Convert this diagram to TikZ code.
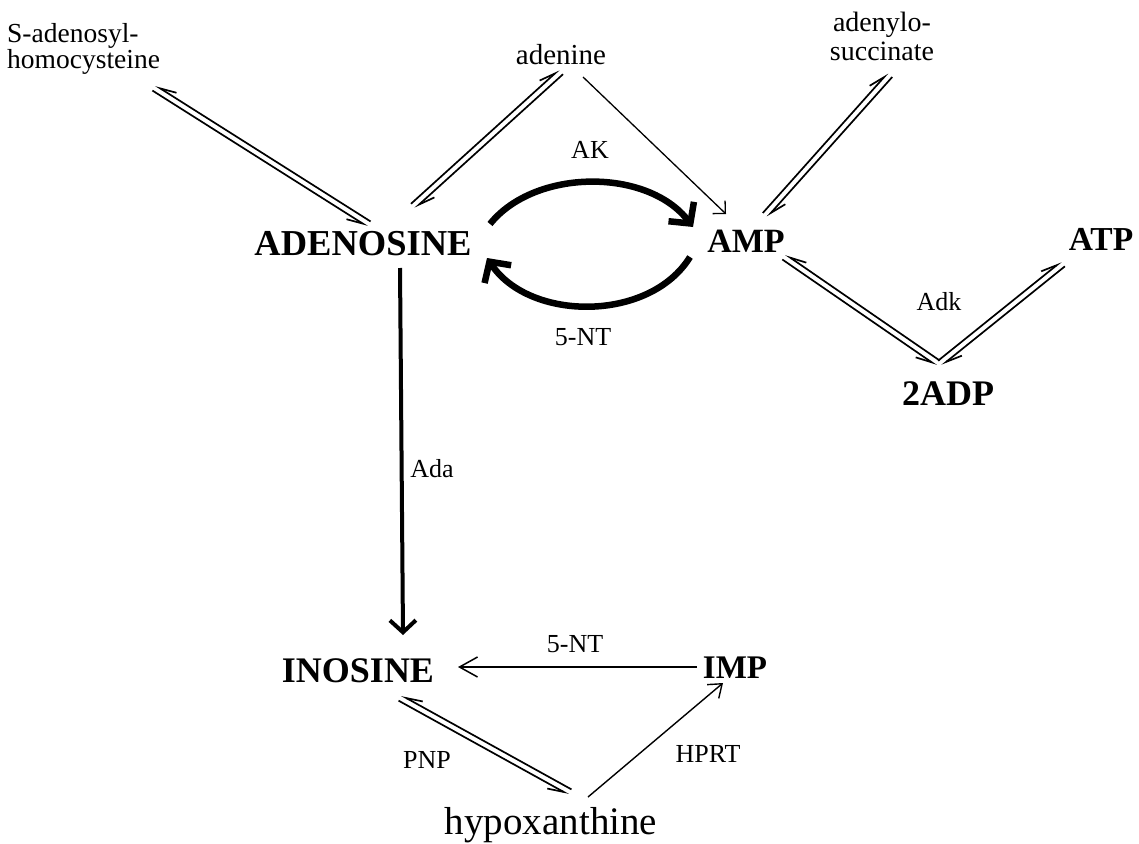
\documentclass[tikz,border=0pt]{standalone}
\usepackage{fontspec}
\setmainfont{Liberation Serif}
\usetikzlibrary{arrows.meta,calc}
\tikzset{
  species/.style={anchor=base,inner sep=0pt,font=\fontsize{#1}{#1}\selectfont\bfseries},
  small/.style={anchor=base,inner sep=0pt,font=\fontsize{#1}{#1}\selectfont},
  enz/.style={anchor=base,inner sep=0pt,font=\fontsize{26}{26}\selectfont},
  eqlineL/.style={line width=1.7pt,-{Straight Barb[left,length=16pt,width=10pt]}},
  eqlineR/.style={line width=1.7pt,-{Straight Barb[right,length=16pt,width=10pt]}},
  thinarr/.style={line width=1.3pt,-{Straight Barb[length=9pt,width=18pt]}},
  bigarc/.style={line width=6.5pt,-{Straight Barb[length=15pt,width=32pt]}},
  adaarr/.style={line width=4pt,-{Straight Barb[length=12pt,width=26pt]}},
}
\newcommand\eqL[2]{%
  \draw[eqlineL] ($(#1)!3pt!90:(#2)$) -- ($(#2)!3pt!-90:(#1)$);
  \draw[eqlineL] ($(#2)!3pt!90:(#1)$) -- ($(#1)!3pt!-90:(#2)$);}
\newcommand\eqR[2]{%
  \draw[eqlineR] ($(#1)!3pt!-90:(#2)$) -- ($(#2)!3pt!90:(#1)$);
  \draw[eqlineR] ($(#2)!3pt!-90:(#1)$) -- ($(#1)!3pt!90:(#2)$);}
\begin{document}
\begin{tikzpicture}[x=1pt,y=-1pt]
\useasboundingbox[fill=white] (0,0) rectangle (1139,843);
% species
\node[small=27.5,anchor=base west] (sah1) at (7,42) {S-adenosyl-};
\node[small=27.5,anchor=base west] (sah2) at (7,68) {homocysteine};
\node[small=29] (aden) at (561,64) {adenine};
\node[small=28] (as1) at (882,32) {adenylo-};
\node[small=28] (as2) at (882,60) {succinate};
\node[species=36.5] (ado) at (363,255) {ADENOSINE};
\node[species=34] (amp) at (746,252) {AMP};
\node[species=33.5] (atp) at (1101,250) {ATP};
\node[species=36] (adp) at (948,405) {2ADP};
\node[species=36] (ino) at (358,682) {INOSINE};
\node[species=33] (imp) at (735,678) {IMP};
\node[small=39] (hx) at (551,834) {hypoxanthine};
% enzyme labels
\node[enz] (ak) at (590,158) {AK};
\node[enz] (nt1) at (583,345) {5-NT};
\node[enz] (adk) at (939,310) {Adk};
\node[enz] (ada) at (432,477) {Ada};
\node[enz] (nt2) at (575,652) {5-NT};
\node[enz] (pnp) at (427,768) {PNP};
\node[enz] (hprt) at (708,762) {HPRT};
% connector end points
\coordinate (e1a) at (154,88);  \coordinate (e1b) at (369,224);
\coordinate (e2a) at (413,206); \coordinate (e2b) at (561,72);
\coordinate (e3a) at (765,215); \coordinate (e3b) at (890,75);
\coordinate (e4a) at (784,257); \coordinate (e4b) at (938,363);
\coordinate (e5a) at (940,363); \coordinate (e5b) at (1063,264);
\coordinate (e6a) at (400,698); \coordinate (e6b) at (570,792);
\coordinate (t1a) at (583,77);  \coordinate (t1b) at (726,214);
\coordinate (t2a) at (588,797); \coordinate (t2b) at (723,683);
\coordinate (t3a) at (697,667); \coordinate (t3b) at (458,667);
\coordinate (adaA) at (400,268); \coordinate (adaB) at (403,635);
\coordinate (akA) at (490,224); \coordinate (akB) at (693,227);
\coordinate (ntA) at (690,257); \coordinate (ntB) at (487,258);
% equilibria
\eqR{e1a}{e1b}
\eqL{e2a}{e2b}
\eqL{e3a}{e3b}
\eqR{e4a}{e4b}
\eqL{e5a}{e5b}
\eqR{e6a}{e6b}
% one-way arrows
\draw[thinarr] (t1a) -- (t1b);
\draw[line width=1.4pt,-{Straight Barb[length=12pt,width=18pt]}] (t2a) -- (t2b);
\draw[line width=1.5pt,-{Straight Barb[length=18pt,width=20pt]}] (t3a) -- (t3b);
\draw[adaarr] (adaA) -- (adaB);
\draw[bigarc] (akA) .. controls (535,168) and (648,168) .. (akB);
\draw[bigarc] (ntA) .. controls (650,322) and (530,322) .. (ntB);
\end{tikzpicture}
\end{document}
